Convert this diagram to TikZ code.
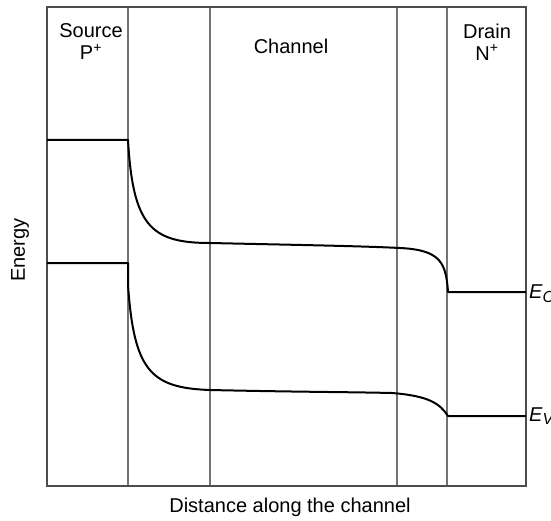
\documentclass[tikz,border=0pt]{standalone}
\usepackage{fontspec}
\setmainfont{Liberation Sans}
\usetikzlibrary{positioning}
\definecolor{frame}{rgb}{0.3,0.3,0.3}
\definecolor{divider}{rgb}{0.45,0.45,0.45}

\newcommand{\bandlabel}[2]{\textit{#1}\raisebox{-0.35ex}{\fontsize{16}{18}\selectfont\textit{#2}}}

\begin{document}
\begin{tikzpicture}[x=1pt,y=-1pt,
    label/.style={font=\fontsize{20}{22}\selectfont,align=center,inner sep=0pt},
    band/.style={line width=2pt,black,line join=round},
    wall/.style={line width=1.1pt,divider}]

  \useasboundingbox (0,0) rectangle (551,521);

  % Regions
  \coordinate (bl) at (47,486);
  \coordinate (tr) at (526,7);
  \foreach \x in {128,210,397,447}
    \draw[wall] (\x,7) -- (\x,486);
  \draw[line width=2.2pt,frame] (bl) rectangle (tr);

  % Conduction band
  \coordinate (c0) at (47,140);
  \coordinate (c1) at (128,140);
  \coordinate (c2) at (210,243);
  \coordinate (c3) at (400,248);
  \coordinate (c4) at (448,292);
  \coordinate (c5) at (526,292);
  \draw[band] (c0) -- (c1) .. controls (133,225) and (150,243) .. (c2)
    .. controls (300,245) and (360,246) .. (c3)
    .. controls (440,250) and (446,262) .. (c4) -- (c5);

  % Valence band
  \coordinate (v0) at (47,263);
  \coordinate (v1) at (128,263);
  \coordinate (v2) at (210,390);
  \coordinate (v3) at (392,393);
  \coordinate (v4) at (448,416);
  \coordinate (v5) at (526,416);
  \draw[band] (v0) -- (v1) -- (128,285) .. controls (134,370) and (150,388) .. (v2)
    .. controls (300,392) and (350,392) .. (v3)
    .. controls (430,396) and (440,404) .. (v4) -- (v5);

  % Labels
  \node[label] (source) at (91,42) {Source\\P\textsuperscript{+}};
  \node[label] (channel) at (291,46) {Channel};
  \node[label] (drain) at (487,42) {Drain\\N\textsuperscript{+}};
  \node[label,rotate=90] (energy) at (20,250) {Energy};
  \node[label] (distance) at (290,507) {Distance along the channel};
  \node[label,anchor=west] (ec) at (529,294) {\bandlabel{E}{C}};
  \node[label,anchor=west] (ev) at (529,416) {\bandlabel{E}{V}};

\end{tikzpicture}
\end{document}
